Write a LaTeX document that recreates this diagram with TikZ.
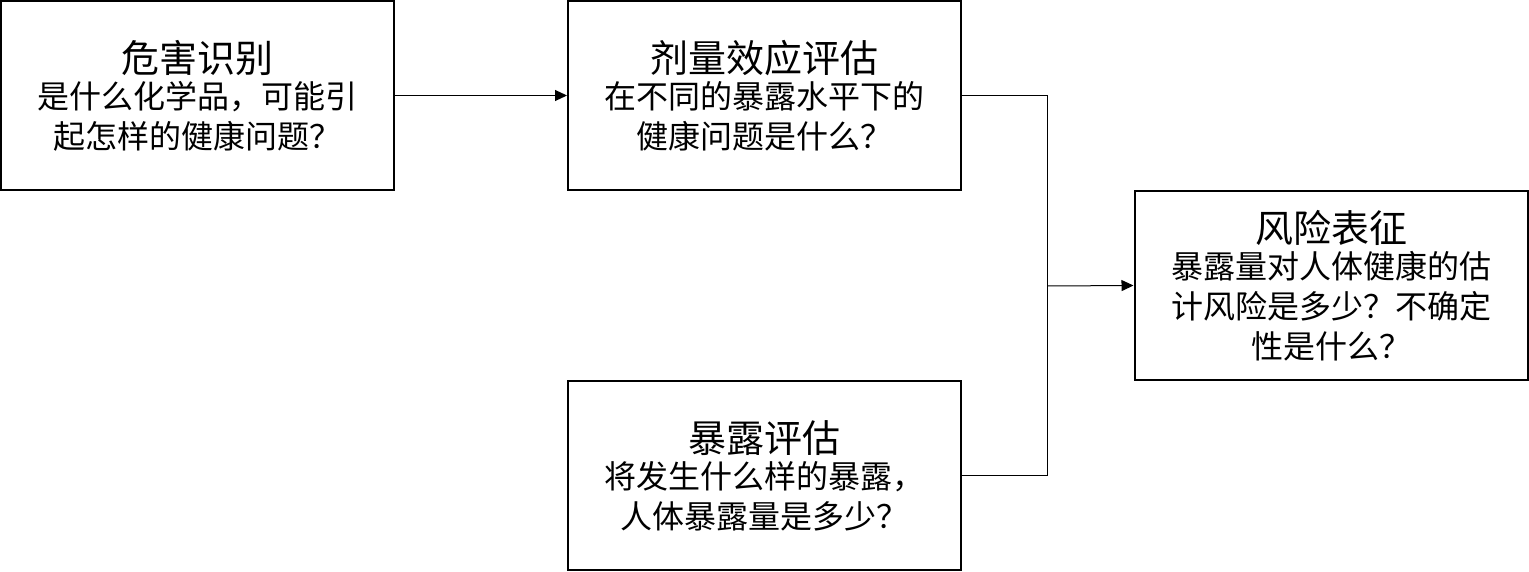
\documentclass[tikz,border=0pt]{standalone}
\usepackage{fontspec}
\newfontfamily\cjk{Noto Sans CJK SC}
\usetikzlibrary{arrows.meta}
\tikzset{
  box/.style={draw=black, line width=2pt, inner sep=0pt, minimum width=393pt, minimum height=189pt, align=center, font=\cjk\fontsize{32pt}{40pt}\selectfont, text=black},
  conn/.style={draw=black, line width=1pt},
  arr/.style={conn, -{Triangle[length=12pt,width=11pt]}},
}
\newcommand{\ttl}[1]{{\fontsize{38pt}{40pt}\selectfont #1}}
\begin{document}
\begin{tikzpicture}[x=1pt,y=-1pt]
\useasboundingbox (0,0) rectangle (1529,572);
\node[box] (b1) at (197.5,95.5) {\ttl{危害识别}\\[-4pt]是什么化学品，可能引\\起怎样的健康问题？};
\node[box] (b2) at (764.5,95.5) {\ttl{剂量效应评估}\\[-4pt]在不同的暴露水平下的\\健康问题是什么？};
\node[box] (b3) at (764.5,475.5) {\ttl{暴露评估}\\[-4pt]将发生什么样的暴露，\\人体暴露量是多少？};
\node[box] (b4) at (1331,285.5) {\ttl{风险表征}\\[-4pt]暴露量对人体健康的估\\计风险是多少？不确定\\性是什么？};
\coordinate (j) at (1047.5,286);
\draw[arr] (b1.east) -- (b2.west);
\draw[conn] (b2.east) -| (j);
\draw[conn] (b3.east) -| (j);
\draw[arr] (j) -- (b4.west);
\end{tikzpicture}
\end{document}
